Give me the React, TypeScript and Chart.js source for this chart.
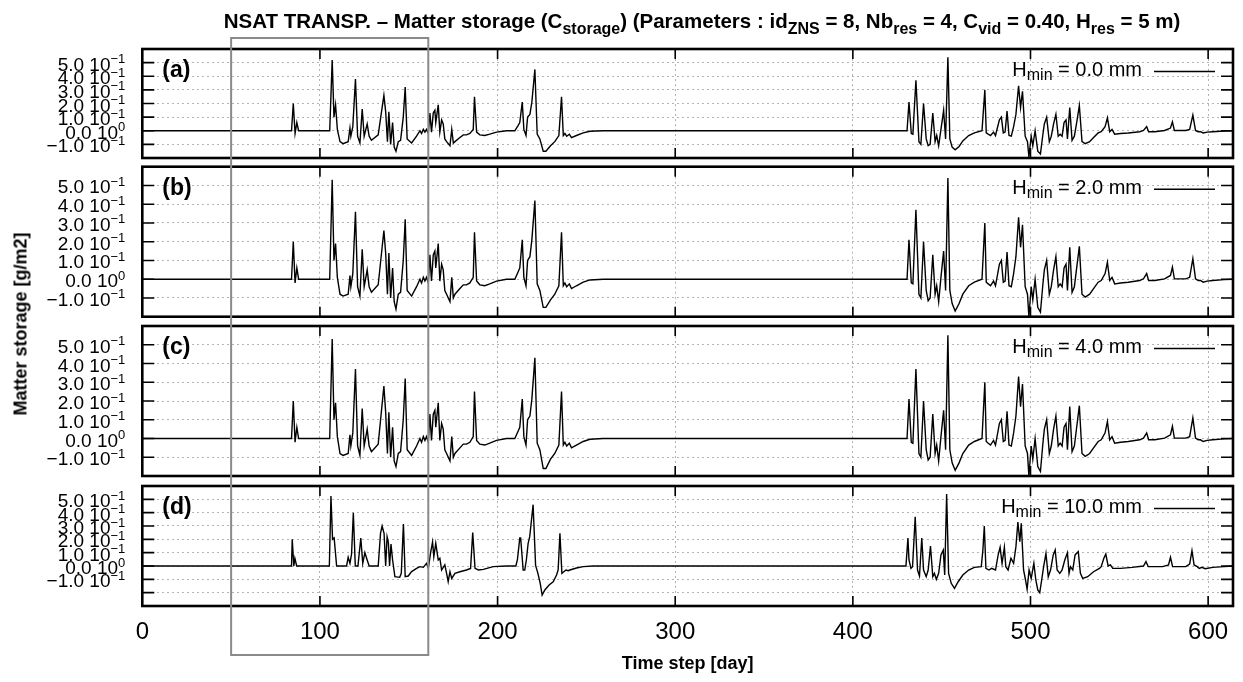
import React, { useEffect, useRef } from "react";
import { Chart, registerables } from "chart.js";

Chart.register(...registerables);

const FONT = "'Liberation Sans', Arial, Helvetica, sans-serif";

// ---------------- data ----------------
const panelLetters = ["(a)", "(b)", "(c)", "(d)"];
const hminValues = ["0.0", "2.0", "4.0", "10.0"];
const xTickValues = [0, 100, 200, 300, 400, 500, 600];
const xLimits = [0, 614];
const yLimits = [
  [-0.2, 0.6],
  [-0.2, 0.6],
  [-0.2, 0.6],
  [-0.3, 0.6],
];
const yTickValues = [-0.3, -0.2, -0.1, 0, 0.1, 0.2, 0.3, 0.4, 0.5, 0.6];
const yLabelValues = [0.5, 0.4, 0.3, 0.2, 0.1, 0, -0.1];
const yLabelMantissa = ["5.0", "4.0", "3.0", "2.0", "1.0", "0.0", "\u22121.0"];
const yLabelExponent = ["\u22121", "\u22121", "\u22121", "\u22121", "\u22121", "0", "\u22121"];
const highlightDays = [50, 161];

// [day, matter storage g/m2]
const pointsA: number[][] = [
  [0, 0], [84, 0], [85, 0.2], [86, -0.02], [87, 0.06], [88, 0], [105.5, 0], [106.9, 0.52], [107.9, 0.1], [108.8, 0.19],
  [109.8, 0.01], [111.3, -0.08], [113, -0.095], [115.9, -0.08], [116.9, 0.02], [117.4, -0.04], [118.5, 0.03], [120, 0.38], [121.2, -0.04], [122.5, -0.09],
  [123.8, 0.16], [124.9, -0.04], [126.6, 0.05], [127.7, -0.04], [129, -0.07], [132.8, -0.03], [136, 0.26], [137, 0.14], [138, -0.08], [138.8, 0.14],
  [139.8, -0.1], [140.9, 0.06], [141.8, -0.12], [142.8, -0.15], [144.1, -0.08], [145.4, -0.07], [146.9, 0.1], [148, 0.32], [149.1, -0.06], [151.6, -0.09],
  [154.4, -0.04], [156.3, 0], [157.2, -0.02], [158.2, 0.01], [159.1, -0.01], [160, 0.01], [161, -0.02], [161.9, 0.13], [162.8, -0.01], [163.8, 0.13],
  [164.7, 0.15], [165.2, 0.06], [166.6, 0.19], [167.5, -0.01], [168.5, 0.08], [169.4, 0.05], [170.3, -0.06], [171.3, -0.08], [173.2, -0.11], [174.2, 0.01],
  [175.1, -0.09], [176, -0.08], [178.8, -0.05], [180.7, -0.03], [182.5, -0.03], [184.4, -0.02], [186.3, 0.01], [187, 0.25], [188.2, -0.01], [190, -0.03],
  [192.8, -0.035], [195.6, -0.025], [199.4, -0.01], [205, 0], [209.7, 0], [211.6, 0.04], [212.5, 0.06], [213.9, 0.21], [214.8, 0.01], [216, -0.035],
  [216.9, 0.1], [218.2, 0.12], [219.3, 0.21], [221, 0.45], [222.3, -0.025], [223.8, -0.06], [225.7, -0.15], [227.2, -0.15], [229.8, -0.11], [232.2, -0.08],
  [234.5, -0.035], [236, 0.25], [237, -0.035], [237.9, -0.02], [238.9, -0.04], [240.4, -0.025], [241.6, -0.05], [244.4, -0.035], [248.2, -0.016], [252, -0.004],
  [259.5, 0], [430.5, 0], [431.6, 0.21], [432.9, -0.02], [433.8, -0.025], [435.5, 0.37], [437.2, -0.08], [438.3, -0.1], [439.8, 0.2], [441.3, -0.06],
  [442.4, -0.11], [443.5, -0.1], [445, 0.13], [446.3, -0.08], [447.2, -0.035], [448.3, -0.11], [449.6, 0.01], [451.1, 0.15], [452.2, -0.06], [453.5, 0.54],
  [454.6, -0.06], [455.9, -0.12], [457.6, -0.14], [459.8, -0.115], [461.9, -0.075], [465.2, -0.035], [468.4, -0.016], [472.7, 0], [474.3, 0.3], [475.1, -0.016],
  [476.2, -0.025], [477.5, -0.035], [479.2, -0.01], [480.3, -0.035], [482.5, 0.08], [483.6, 0.1], [484.7, -0.016], [485.7, -0.01], [486.8, 0.145], [487.9, -0.035],
  [489.2, -0.04], [490.5, 0.03], [491.8, 0.12], [493.3, 0.33], [494.4, 0.17], [495.5, 0.29], [497, -0.04], [498.3, -0.08], [499.1, -0.19], [500.4, -0.04],
  [501.3, -0.11], [502.6, 0.0], [504.1, -0.15], [505.6, -0.17], [506.9, -0.035], [507.8, 0.05], [509.1, 0.1], [510.6, -0.08], [511.7, -0.04], [513, 0.05],
  [514.3, 0.12], [515.6, -0.04], [516.7, -0.025], [517.8, -0.04], [518.9, 0.06], [520, 0.08], [520.8, -0.06], [522.1, 0.17], [523.4, -0.07], [524.7, -0.04],
  [526, 0.06], [527.5, 0.185], [529, -0.08], [530.8, -0.095], [533.3, -0.08], [535.5, -0.05], [538.1, -0.016], [539.8, -0.007], [542, 0.03], [543.3, 0.095],
  [544.6, -0.007], [545.9, 0.01], [547.4, -0.025], [550.7, -0.02], [555, -0.016], [561.5, -0.007], [563.6, 0.002], [565.4, 0.03], [566.5, -0.007], [570, -0.007],
  [575.5, 0.002], [578.8, 0.02], [579.9, 0.065], [581, 0.002], [587.4, 0.002], [589.6, 0.01], [591.4, 0.115], [592.9, 0.002], [594.4, -0.007], [595.7, -0.007],
  [597.2, -0.016], [599.4, -0.01], [602.6, -0.007], [609, -0.002], [614, 0],
];

const pointsB: number[][] = [
  [0, 0], [84, 0], [85, 0.2], [86, -0.02], [87, 0.06], [88, 0], [105.5, 0], [106.9, 0.53], [107.9, 0.1], [108.8, 0.19],
  [109.8, 0.01], [111.3, -0.08], [113, -0.09], [115.9, -0.08], [116.9, 0.02], [117.4, -0.04], [118.5, 0.03], [120, 0.36], [121.2, -0.04], [122.5, -0.09],
  [123.8, 0.16], [124.9, -0.04], [126.6, 0.05], [127.7, -0.04], [129, -0.07], [132.8, -0.03], [136, 0.26], [137, 0.14], [138, -0.08], [138.8, 0.14],
  [139.8, -0.1], [140.9, 0.06], [141.8, -0.12], [142.8, -0.16], [144.1, -0.08], [145.4, -0.07], [146.9, 0.1], [148, 0.32], [149.1, -0.06], [151.6, -0.09],
  [154.4, -0.04], [156.3, 0], [157.2, -0.02], [158.2, 0.01], [159.1, -0.01], [160, 0.01], [161, -0.02], [161.9, 0.13], [162.8, -0.01], [163.8, 0.13],
  [164.7, 0.15], [165.2, 0.06], [166.6, 0.19], [167.5, -0.01], [168.5, 0.08], [169.4, 0.05], [170.3, -0.06], [171.3, -0.08], [173.2, -0.12], [174.2, 0.01],
  [175.1, -0.1], [176, -0.08], [178.8, -0.05], [180.7, -0.03], [182.5, -0.03], [184.4, -0.02], [186.3, 0.01], [187, 0.25], [188.2, -0.01], [190, -0.03],
  [192.8, -0.035], [195.6, -0.025], [199.4, -0.01], [205, 0], [209.7, 0], [211.6, 0.04], [212.5, 0.06], [213.9, 0.21], [214.8, 0.01], [216, -0.035],
  [216.9, 0.1], [218.2, 0.12], [219.3, 0.21], [221, 0.42], [222.3, -0.025], [223.8, -0.06], [225.7, -0.15], [227.2, -0.15], [229.8, -0.11], [232.2, -0.08],
  [234.5, -0.035], [236, 0.25], [237, -0.035], [237.9, -0.02], [238.9, -0.04], [240.4, -0.025], [241.6, -0.05], [244.4, -0.035], [248.2, -0.016], [252, -0.004],
  [259.5, 0], [430.5, 0], [431.6, 0.21], [432.9, -0.02], [433.8, -0.025], [435.5, 0.37], [437.2, -0.08], [438.3, -0.1], [439.8, 0.2], [441.3, -0.06],
  [442.4, -0.115], [443.5, -0.1], [445, 0.13], [446.3, -0.08], [447.2, -0.035], [448.3, -0.12], [449.6, 0.01], [451.1, 0.15], [452.2, -0.06], [453.5, 0.54],
  [454.6, -0.06], [455.9, -0.13], [457.6, -0.17], [459.8, -0.13], [461.9, -0.08], [465.2, -0.035], [468.4, -0.016], [472.7, 0], [474.3, 0.3], [475.1, -0.016],
  [476.2, -0.025], [477.5, -0.035], [479.2, -0.01], [480.3, -0.035], [482.5, 0.08], [483.6, 0.1], [484.7, -0.016], [485.7, -0.01], [486.8, 0.145], [487.9, -0.035],
  [489.2, -0.04], [490.5, 0.03], [491.8, 0.12], [493.3, 0.33], [494.4, 0.17], [495.5, 0.29], [497, -0.04], [498.3, -0.08], [499.1, -0.2], [500.4, -0.04],
  [501.3, -0.11], [502.6, 0.0], [504.1, -0.15], [505.6, -0.176], [506.9, -0.035], [507.8, 0.05], [509.1, 0.1], [510.6, -0.08], [511.7, -0.04], [513, 0.05],
  [514.3, 0.12], [515.6, -0.04], [516.7, -0.025], [517.8, -0.04], [518.9, 0.06], [520, 0.08], [520.8, -0.06], [522.1, 0.17], [523.4, -0.07], [524.7, -0.04],
  [526, 0.06], [527.5, 0.175], [529, -0.08], [530.8, -0.095], [533.3, -0.08], [535.5, -0.05], [538.1, -0.016], [539.8, -0.007], [542, 0.03], [543.3, 0.09],
  [544.6, -0.007], [545.9, 0.01], [547.4, -0.025], [550.7, -0.02], [555, -0.016], [561.5, -0.007], [563.6, 0.002], [565.4, 0.03], [566.5, -0.007], [570, -0.007],
  [575.5, 0.002], [578.8, 0.02], [579.9, 0.065], [581, 0.002], [587.4, 0.002], [589.6, 0.01], [591.4, 0.11], [592.9, 0.002], [594.4, -0.007], [595.7, -0.007],
  [597.2, -0.016], [599.4, -0.01], [602.6, -0.007], [609, -0.002], [614, 0],
];

const pointsC: number[][] = [
  [0, 0], [84, 0], [85, 0.2], [86, -0.02], [87, 0.06], [88, 0], [105.5, 0], [106.9, 0.53], [107.9, 0.1], [108.8, 0.19],
  [109.8, 0.01], [111.3, -0.08], [113, -0.09], [115.9, -0.08], [116.9, 0.02], [117.4, -0.04], [118.5, 0.03], [120, 0.37], [121.2, -0.04], [122.5, -0.09],
  [123.8, 0.16], [124.9, -0.04], [126.6, 0.05], [127.7, -0.04], [129, -0.07], [132.8, -0.03], [136, 0.28], [137, 0.14], [138, -0.08], [138.8, 0.14],
  [139.8, -0.1], [140.9, 0.06], [141.8, -0.12], [142.8, -0.15], [144.1, -0.08], [145.4, -0.07], [146.9, 0.1], [148, 0.32], [149.1, -0.06], [151.6, -0.09],
  [154.4, -0.04], [156.3, 0], [157.2, -0.02], [158.2, 0.01], [159.1, -0.01], [160, 0.01], [161, -0.02], [161.9, 0.13], [162.8, -0.01], [163.8, 0.13],
  [164.7, 0.15], [165.2, 0.06], [166.6, 0.19], [167.5, -0.01], [168.5, 0.08], [169.4, 0.05], [170.3, -0.06], [171.3, -0.08], [173.2, -0.12], [174.2, 0.01],
  [175.1, -0.1], [176, -0.08], [178.8, -0.05], [180.7, -0.03], [182.5, -0.03], [184.4, -0.02], [186.3, 0.01], [187, 0.25], [188.2, -0.01], [190, -0.03],
  [192.8, -0.035], [195.6, -0.025], [199.4, -0.01], [205, 0], [209.7, 0], [211.6, 0.04], [212.5, 0.06], [213.9, 0.21], [214.8, 0.01], [216, -0.035],
  [216.9, 0.1], [218.2, 0.12], [219.3, 0.21], [221, 0.43], [222.3, -0.025], [223.8, -0.06], [225.7, -0.16], [227.2, -0.16], [229.8, -0.11], [232.2, -0.08],
  [234.5, -0.035], [236, 0.25], [237, -0.035], [237.9, -0.02], [238.9, -0.04], [240.4, -0.025], [241.6, -0.05], [244.4, -0.035], [248.2, -0.016], [252, -0.004],
  [259.5, 0], [430.5, 0], [431.6, 0.21], [432.9, -0.02], [433.8, -0.025], [435.5, 0.37], [437.2, -0.08], [438.3, -0.1], [439.8, 0.2], [441.3, -0.06],
  [442.4, -0.115], [443.5, -0.1], [445, 0.13], [446.3, -0.08], [447.2, -0.035], [448.3, -0.12], [449.6, 0.01], [451.1, 0.15], [452.2, -0.06], [453.5, 0.55],
  [454.6, -0.06], [455.9, -0.13], [457.6, -0.17], [459.8, -0.13], [461.9, -0.08], [465.2, -0.035], [468.4, -0.016], [472.7, 0], [474.3, 0.3], [475.1, -0.016],
  [476.2, -0.025], [477.5, -0.035], [479.2, -0.01], [480.3, -0.035], [482.5, 0.08], [483.6, 0.1], [484.7, -0.016], [485.7, -0.01], [486.8, 0.145], [487.9, -0.035],
  [489.2, -0.04], [490.5, 0.03], [491.8, 0.12], [493.3, 0.33], [494.4, 0.17], [495.5, 0.29], [497, -0.04], [498.3, -0.08], [499.1, -0.2], [500.4, -0.04],
  [501.3, -0.11], [502.6, 0.0], [504.1, -0.15], [505.6, -0.176], [506.9, -0.035], [507.8, 0.05], [509.1, 0.1], [510.6, -0.08], [511.7, -0.04], [513, 0.05],
  [514.3, 0.12], [515.6, -0.04], [516.7, -0.025], [517.8, -0.04], [518.9, 0.06], [520, 0.08], [520.8, -0.06], [522.1, 0.17], [523.4, -0.07], [524.7, -0.04],
  [526, 0.06], [527.5, 0.175], [529, -0.08], [530.8, -0.095], [533.3, -0.08], [535.5, -0.05], [538.1, -0.016], [539.8, -0.007], [542, 0.03], [543.3, 0.09],
  [544.6, -0.007], [545.9, 0.01], [547.4, -0.025], [550.7, -0.02], [555, -0.016], [561.5, -0.007], [563.6, 0.002], [565.4, 0.03], [566.5, -0.007], [570, -0.007],
  [575.5, 0.002], [578.8, 0.02], [579.9, 0.065], [581, 0.002], [587.4, 0.002], [589.6, 0.01], [591.4, 0.11], [592.9, 0.002], [594.4, -0.007], [595.7, -0.007],
  [597.2, -0.016], [599.4, -0.01], [602.6, -0.007], [609, -0.002], [614, 0],
];

const pointsD: number[][] = [
  [0, 0], [84, 0], [84.4, 0.2], [85.3, 0.0], [85.9, 0.058], [86.9, 0], [105.3, 0], [106.2, 0.525], [107.1, 0.2], [108, 0.21],
  [109.4, 0], [115, 0], [115.9, 0.065], [116.9, 0.02], [117.8, 0.09], [118.8, 0.4], [119.9, 0], [121.4, 0], [123, 0.21], [124.1, 0.02],
  [125.3, 0.1], [126.6, 0.045], [127.7, 0], [132.8, 0], [134.1, 0.245], [135, 0.3], [136.1, 0.245], [137, 0], [137.8, 0.22], [138.5, 0.18],
  [139.2, 0], [140, 0.165], [140.9, 0.045], [142.2, -0.08], [144.9, -0.085], [145.8, -0.055], [147, 0.315], [148, -0.08], [149.7, -0.075], [151.6, -0.042],
  [154.4, -0.018], [156.3, -0.005], [158.2, -0.01], [160, 0.02], [161, -0.018], [162.3, 0.1], [163.4, 0.18], [164.1, 0.07], [165.2, 0.17], [166.6, 0.045],
  [167.5, 0.058], [168.5, -0.03], [170.3, 0.008], [171.3, -0.055], [172.2, -0.118], [173.2, -0.043], [174.2, -0.093], [176, -0.055], [178.8, -0.043], [182.5, -0.03],
  [184.8, -0.018], [186, 0.25], [187.3, -0.018], [189.2, -0.03], [192, -0.025], [197.5, -0.005], [205, 0], [210.3, 0], [211.2, 0.05], [212.5, 0.21],
  [213, 0.21], [214.4, -0.03], [215.3, -0.03], [216.2, 0.045], [217.2, 0.17], [218.1, 0.22], [220, 0.46], [221.4, 0.005], [222.7, -0.055], [224, -0.13],
  [225.1, -0.218], [226.6, -0.18], [229, -0.143], [231.3, -0.118], [233.2, -0.068], [234.1, -0.03], [235.1, 0.245], [236.2, -0.055], [237.3, -0.043], [238.5, -0.03],
  [239.8, -0.035], [240.7, -0.03], [244.4, -0.015], [248.2, -0.005], [253.8, 0], [429.9, 0], [431, 0.21], [431.6, 0.045], [432.7, -0.018], [433.6, -0.005],
  [435.1, 0.37], [436.4, -0.03], [437.5, -0.075], [438.8, 0.21], [439.8, -0.03], [441.3, -0.08], [442.4, -0.03], [443.7, 0.15], [445, -0.08], [445.9, -0.055],
  [447, -0.1], [448.3, -0.055], [449.6, 0.083], [450.9, 0.12], [451.7, -0.068], [452.8, 0.54], [453.9, -0.055], [455.4, -0.13], [457.2, -0.168], [459.3, -0.118],
  [461.9, -0.068], [465.2, -0.03], [468.4, -0.01], [472.3, -0.005], [473.2, 0.12], [474, 0.3], [474.9, -0.018], [476.6, -0.03], [478.1, -0.018], [480.3, -0.03],
  [481.8, 0.083], [482.9, 0.14], [484, 0.02], [485.3, 0.14], [486.1, -0.005], [487.4, -0.03], [489, 0.058], [490.5, 0.02], [491.8, 0.145], [492.9, 0.33],
  [494, 0.183], [494.8, 0.32], [496.1, -0.03], [497.2, -0.105], [498.1, -0.175], [499.2, -0.03], [500.4, -0.093], [501.9, 0.02], [503, -0.105], [504.1, -0.18],
  [505.2, -0.2], [506.3, -0.105], [507.4, -0.005], [508.7, 0.095], [510, -0.08], [511.3, -0.03], [512.8, 0.083], [513.9, 0.12], [515, -0.03], [516.5, -0.055],
  [517.8, -0.03], [519.3, 0.045], [520.8, 0.1], [521.7, -0.055], [522.5, -0.005], [523.8, -0.03], [525.1, 0.083], [526.9, 0.108], [528.1, -0.055], [529.4, -0.093],
  [532.2, -0.08], [535.5, -0.043], [538.8, -0.018], [539.8, -0.005], [541.3, 0.058], [542.4, 0.09], [543.7, 0], [545, 0.008], [546.3, -0.018], [550.7, -0.018],
  [557.2, -0.01], [563.6, 0], [565, 0.033], [566.3, -0.005], [574.4, -0.005], [577.7, 0.008], [578.8, 0.065], [580, -0.005], [587.4, -0.005], [589.6, 0.015],
  [590.9, 0.115], [592.1, 0.008], [593.9, -0.005], [595, -0.018], [596.5, -0.01], [598.3, -0.02], [602.6, -0.01], [609, -0.005], [614, 0],
];

const panelPoints = [pointsA, pointsB, pointsC, pointsD];

// ---------------- layout ----------------
const W = 1243;
const H = 682;
const canvasTop = [0, 162, 321, 481];
const canvasHeight = [162, 159, 160, 201];
const padTop = [49, 4.7, 5, 5];
const padBottom = [4, 4.3, 5, 0];
const plotLeft = 142.3;
const plotRightPad = 10;
const xAxisHeight = 76;
const rectTopPx = 38;
const rectBottomPx = 655;

const decorPlugin = {
  id: "panelDecor",
  afterDatasetsDraw(chart: any, _args: any, opts: any) {
    const i = opts.index as number;
    const { ctx, chartArea: ca, scales } = chart;
    const xs = scales.x;
    const ys = scales.y;
    ctx.save();
    // inward ticks
    ctx.strokeStyle = "#000";
    ctx.lineWidth = 1.6;
    ctx.beginPath();
    ys.ticks.forEach((t: any) => {
      const y = ys.getPixelForValue(t.value);
      if (y <= ca.top + 1 || y >= ca.bottom - 1) return;
      ctx.moveTo(ca.left, y);
      ctx.lineTo(ca.left + 12, y);
      ctx.moveTo(ca.right - 12, y);
      ctx.lineTo(ca.right, y);
    });
    xs.ticks.forEach((t: any) => {
      const x = xs.getPixelForValue(t.value);
      if (x <= ca.left + 1 || x >= ca.right - 1) return;
      ctx.moveTo(x, ca.top);
      ctx.lineTo(x, ca.top + 10);
      ctx.moveTo(x, ca.bottom - 10);
      ctx.lineTo(x, ca.bottom);
    });
    ctx.stroke();
    // frame
    ctx.lineWidth = 2.6;
    ctx.strokeRect(ca.left, ca.top, ca.right - ca.left, ca.bottom - ca.top);

    // y tick labels "m 10^e"
    ctx.fillStyle = "#000";
    ctx.textAlign = "right";
    ctx.textBaseline = "alphabetic";
    const xr = ca.left - 17;
    yLabelValues.forEach((v, k) => {
      const y = ys.getPixelForValue(v);
      ctx.font = `13px ${FONT}`;
      const sw = ctx.measureText(yLabelExponent[k]).width;
      ctx.fillText(yLabelExponent[k], xr, y + 0.5);
      ctx.font = `19px ${FONT}`;
      ctx.fillText(`${yLabelMantissa[k]} 10`, xr - sw, y + 8);
    });

    // panel letter
    ctx.textAlign = "left";
    ctx.font = `bold 23px ${FONT}`;
    ctx.fillText(panelLetters[i], ca.left + 20, ca.top + 28);

    // legend
    const lineY = ca.top + 22.5;
    const textRight = ca.right - 91;
    ctx.font = `20px ${FONT}`;
    const wH = ctx.measureText("H").width;
    const rest = ` = ${hminValues[i]} mm`;
    const wRest = ctx.measureText(rest).width;
    ctx.font = `16px ${FONT}`;
    const wSub = ctx.measureText("min").width;
    const x0 = textRight - wH - wSub - wRest;
    ctx.font = `20px ${FONT}`;
    ctx.fillText("H", x0, ca.top + 27);
    ctx.font = `16px ${FONT}`;
    ctx.fillText("min", x0 + wH, ca.top + 31);
    ctx.font = `20px ${FONT}`;
    ctx.fillText(rest, x0 + wH + wSub, ca.top + 27);
    ctx.lineWidth = 1.4;
    ctx.beginPath();
    ctx.moveTo(ca.right - 79, lineY);
    ctx.lineTo(ca.right - 18, lineY);
    ctx.stroke();
    ctx.restore();
  },
  afterDraw(chart: any, _args: any, opts: any) {
    const { ctx, scales } = chart;
    const xs = scales.x;
    const x1 = xs.getPixelForValue(highlightDays[0]);
    const x2 = xs.getPixelForValue(highlightDays[1]);
    const top = opts.rectTop == null ? 0 : opts.rectTop;
    const bottom = opts.rectBottom == null ? chart.height : opts.rectBottom;
    ctx.save();
    ctx.strokeStyle = "#8a8a8a";
    ctx.lineWidth = 2;
    ctx.beginPath();
    ctx.moveTo(x1, top);
    ctx.lineTo(x1, bottom);
    ctx.moveTo(x2, top);
    ctx.lineTo(x2, bottom);
    if (opts.rectTop != null) {
      ctx.moveTo(x1 - 1, top);
      ctx.lineTo(x2 + 1, top);
    }
    if (opts.rectBottom != null) {
      ctx.moveTo(x1 - 1, bottom);
      ctx.lineTo(x2 + 1, bottom);
    }
    ctx.stroke();
    ctx.restore();
  },
};

function makeConfig(i: number): any {
  const isLast = i === 3;
  const [ymin, ymax] = yLimits[i];
  const yTicks = yTickValues.filter((v) => v >= ymin - 1e-9 && v <= ymax + 1e-9);
  const pts = panelPoints[i];
  return {
    type: "line",
    data: {
      datasets: [
        {
          label: `Hmin = ${hminValues[i]} mm`,
          data: pts.map((p) => ({ x: p[0], y: p[1] })),
          borderColor: "#000",
          borderWidth: 1.4,
          pointRadius: 0,
          tension: 0,
          fill: false,
        },
      ],
    },
    options: {
      animation: false,
      responsive: false,
      events: [],
      layout: {
        padding: { left: plotLeft, right: plotRightPad, top: padTop[i], bottom: padBottom[i] },
      },
      plugins: {
        legend: { display: false },
        tooltip: { enabled: false },
        panelDecor: {
          index: i,
          rectTop: i === 0 ? rectTopPx : null,
          rectBottom: isLast ? rectBottomPx - canvasTop[3] : null,
        },
      },
      scales: {
        x: {
          type: "linear",
          min: xLimits[0],
          max: xLimits[1],
          afterBuildTicks: (s: any) => {
            s.ticks = xTickValues.map((v) => ({ value: v }));
          },
          afterFit: (s: any) => {
            s.height = isLast ? xAxisHeight : 0;
          },
          grid: { color: "#b4b4b4", lineWidth: 1, drawTicks: false },
          border: { display: false, dash: [2, 3] },
          ticks: {
            display: isLast,
            padding: 12,
            color: "#000",
            maxRotation: 0,
            autoSkip: false,
            font: { family: FONT, size: 24 },
          },
          title: {
            display: isLast,
            text: "Time step [day]",
            color: "#000",
            font: { family: FONT, size: 18, weight: "bold" },
            padding: { top: 0, bottom: 7 },
          },
        },
        y: {
          type: "linear",
          min: ymin,
          max: ymax,
          afterBuildTicks: (s: any) => {
            s.ticks = yTicks.map((v) => ({ value: v }));
          },
          afterFit: (s: any) => {
            s.width = 0;
          },
          grid: { color: "#b4b4b4", lineWidth: 1, drawTicks: false },
          border: { display: false, dash: [2, 3] },
          ticks: { display: false },
        },
      },
    },
    plugins: [decorPlugin],
  };
}

const subStyle: React.CSSProperties = { fontSize: 16, verticalAlign: "-6px", lineHeight: 0 };

export default function App() {
  const refs = [useRef<HTMLCanvasElement>(null), useRef<HTMLCanvasElement>(null), useRef<HTMLCanvasElement>(null), useRef<HTMLCanvasElement>(null)];

  useEffect(() => {
    const charts: Chart[] = [];
    refs.forEach((r, i) => {
      if (r.current) charts.push(new Chart(r.current, makeConfig(i)));
    });
    return () => charts.forEach((c) => c.destroy());
  }, []);

  return (
    <div style={{ position: "fixed", left: 0, top: 0, width: W, height: H, background: "#fff", overflow: "hidden" }}>
      {refs.map((r, i) => (
        <canvas
          key={i}
          ref={r}
          width={W}
          height={canvasHeight[i]}
          style={{ position: "absolute", left: 0, top: canvasTop[i], width: W, height: canvasHeight[i], display: "block" }}
        />
      ))}
      <div
        style={{
          position: "absolute",
          left: 702,
          top: 11,
          transform: "translateX(-50%)",
          font: `bold 20.5px ${FONT}`,
          lineHeight: "20px",
          whiteSpace: "nowrap",
          color: "#000",
        }}
      >
        NSAT TRANSP. – Matter storage (C<sub style={subStyle}>storage</sub>) (Parameters : id
        <sub style={subStyle}>ZNS</sub> = 8, Nb<sub style={subStyle}>res</sub> = 4, C<sub style={subStyle}>vid</sub> = 0.40, H
        <sub style={subStyle}>res</sub> = 5 m)
      </div>
      <div
        style={{
          position: "absolute",
          left: 21,
          top: 324,
          transform: "translate(-50%, -50%) rotate(-90deg)",
          font: `bold 18px ${FONT}`,
          whiteSpace: "nowrap",
          color: "#000",
        }}
      >
        Matter storage [g/m2]
      </div>
    </div>
  );
}
